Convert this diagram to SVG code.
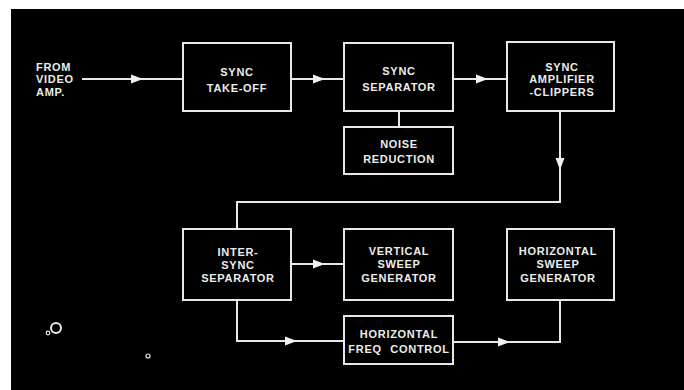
<svg xmlns="http://www.w3.org/2000/svg" xmlns:xlink="http://www.w3.org/1999/xlink" width="684" height="390" viewBox="0 0 684 390">
<style>
.box{fill:#000;stroke:#e8e8e8;stroke-width:2}
.ln{fill:none;stroke:#e8e8e8;stroke-width:2}
text{font-family:"Liberation Sans",Arial,sans-serif;font-weight:bold;font-size:11px;fill:#ececec;letter-spacing:0.7px}
.c{text-anchor:middle}
</style>
<defs>
<path id="ah" d="M0,0 L-12,-4.5 L-12,4.5 Z" fill="#f0f0f0"/>
</defs>
<rect x="0" y="0" width="684" height="390" fill="#ffffff"/>
<rect x="11" y="9" width="673" height="381" fill="#000"/>

<g id="connectors">
<path class="ln" d="M82,79 H183"/>
<use xlink:href="#ah" transform="translate(143,79)"/>
<path class="ln" d="M291,79 H344"/>
<use xlink:href="#ah" transform="translate(325,79)"/>
<path class="ln" d="M453,79 H507"/>
<use xlink:href="#ah" transform="translate(488,79)"/>
<path class="ln" d="M399,111 V127"/>
<path class="ln" d="M560,111 V202 H237 V229"/>
<use xlink:href="#ah" transform="translate(560,170) rotate(90)"/>
<path class="ln" d="M291,264 H344"/>
<use xlink:href="#ah" transform="translate(325,264)"/>
<path class="ln" d="M237,300 V341 H344"/>
<use xlink:href="#ah" transform="translate(297,341)"/>
<path class="ln" d="M453,342 H560 V300"/>
<use xlink:href="#ah" transform="translate(510,342)"/>
</g>

<g id="from-video">
<text x="36" y="71">FROM</text>
<text x="36" y="83">VIDEO</text>
<text x="36" y="96">AMP.</text>
</g>

<g id="sync-takeoff">
<rect class="box" x="183" y="43" width="108" height="68"/>
<text class="c" x="237" y="76">SYNC</text>
<text class="c" x="237" y="92">TAKE-OFF</text>
</g>

<g id="sync-separator">
<rect class="box" x="344" y="43" width="109" height="68"/>
<text class="c" x="399" y="75">SYNC</text>
<text class="c" x="399" y="91">SEPARATOR</text>
</g>

<g id="noise-reduction">
<rect class="box" x="344" y="127" width="109" height="47"/>
<text class="c" x="399" y="148">NOISE</text>
<text class="c" x="399" y="163">REDUCTION</text>
</g>

<g id="sync-amp">
<rect class="box" x="507" y="42" width="107" height="69"/>
<text class="c" x="562" y="71">SYNC</text>
<text class="c" x="562" y="83">AMPLIFIER</text>
<text class="c" x="562" y="96">-CLIPPERS</text>
</g>

<g id="inter-sync">
<rect class="box" x="183" y="229" width="108" height="71"/>
<text class="c" x="238" y="256">INTER-</text>
<text class="c" x="238" y="269">SYNC</text>
<text class="c" x="238" y="282">SEPARATOR</text>
</g>

<g id="vertical-sweep">
<rect class="box" x="344" y="229" width="109" height="71"/>
<text class="c" x="399" y="255">VERTICAL</text>
<text class="c" x="399" y="268">SWEEP</text>
<text class="c" x="399" y="282">GENERATOR</text>
</g>

<g id="horizontal-sweep">
<rect class="box" x="507" y="229" width="107" height="71"/>
<text class="c" x="558" y="255">HORIZONTAL</text>
<text class="c" x="558" y="268">SWEEP</text>
<text class="c" x="558" y="282">GENERATOR</text>
</g>

<g id="horizontal-freq">
<rect class="box" x="344" y="316" width="109" height="48"/>
<text class="c" x="399" y="338">HORIZONTAL</text>
<text class="c" x="365" y="353">FREQ</text>
<text class="c" x="420" y="353">CONTROL</text>
</g>

<g id="specks" fill="none" stroke="#e8e8e8">
<circle cx="56" cy="328" r="5" stroke-width="2"/>
<circle cx="48" cy="333" r="1.8" stroke-width="1.2"/>
<circle cx="148" cy="356" r="2" stroke-width="1.2"/>
</g>
</svg>
